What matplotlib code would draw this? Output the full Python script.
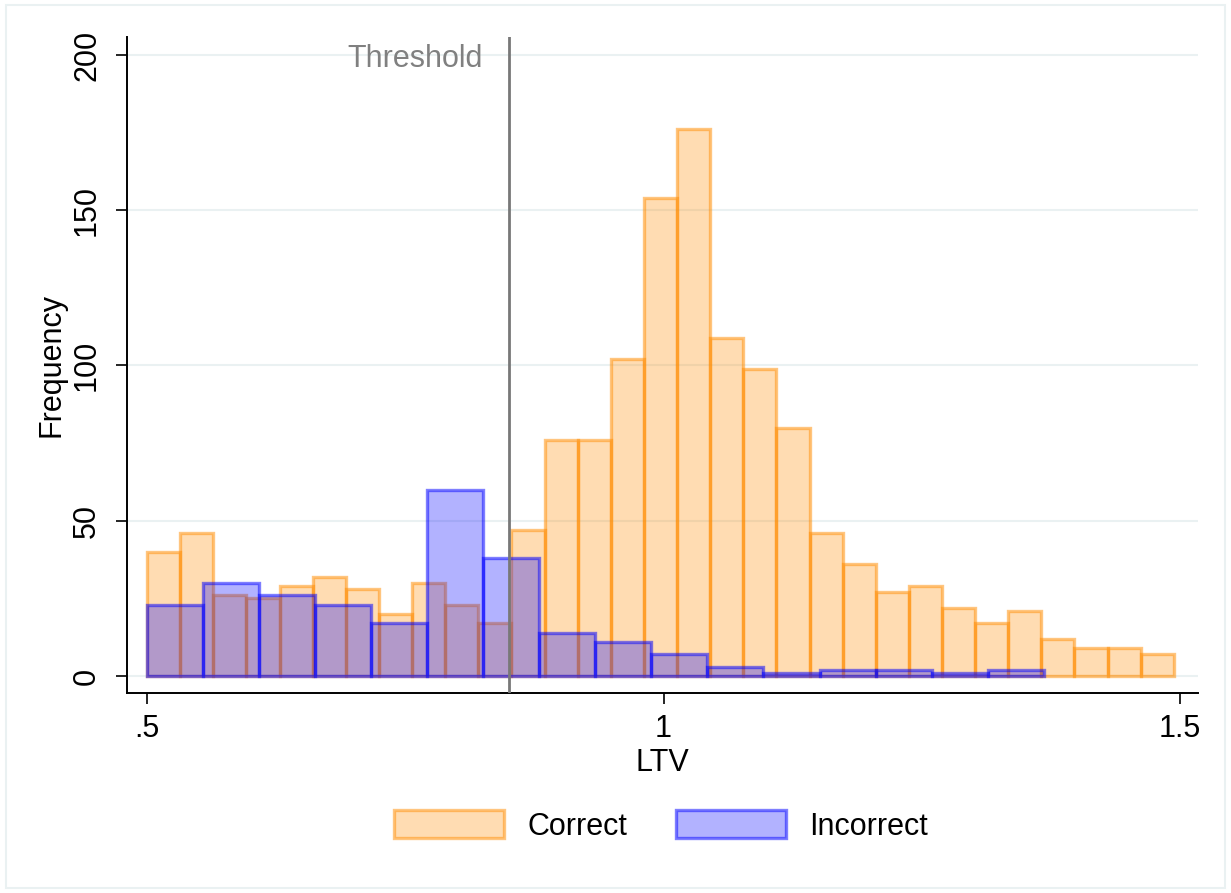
import matplotlib
matplotlib.use("Agg")
import matplotlib.pyplot as plt
from matplotlib.patches import Patch, Rectangle
import numpy as np

# ---- data ----
correct_counts = [40, 46, 26, 25, 29, 32, 28, 20, 30, 23, 17, 47, 76, 76, 102,
                  154, 176, 109, 99, 80, 46, 36, 27, 29, 22, 17, 21, 12, 9, 9, 7]
correct_range = (0.5, 1.494)
incorrect_counts = [23, 30, 26, 23, 17, 60, 38, 14, 11, 7, 3, 1, 2, 2, 1, 2]
incorrect_range = (0.5, 1.368)
threshold = 0.85
xticks = [0.5, 1.0, 1.5]
xticklabels = [".5", "1", "1.5"]
yticks = [0, 50, 100, 150, 200]
labels = ["Correct", "Incorrect"]

plt.rcParams['font.family'] = ['Liberation Sans', 'DejaVu Sans']
FS = 22

fig = plt.figure(figsize=(12.31, 8.93), dpi=100)
# faint outer frame
fig.patches.append(Rectangle((0.005, 0.006), 0.99, 0.988, transform=fig.transFigure,
                             fill=False, edgecolor=(0.918, 0.945, 0.95), lw=1.5))
ax = fig.add_axes([0.1032, 0.224, 0.870, 0.7346])

orange_face = (1.0, 0.55, 0.0, 0.30)
orange_edge = (1.0, 0.55, 0.0, 0.50)
blue_face = (0.0, 0.0, 1.0, 0.30)
blue_edge = (0.0, 0.0, 1.0, 0.50)

def draw_hist(counts, rng, face, edge):
    edges = np.linspace(rng[0], rng[1], len(counts) + 1)
    ax.bar(edges[:-1], counts, width=np.diff(edges), align='edge',
           facecolor=face, edgecolor=edge, linewidth=2.4, zorder=2)

draw_hist(correct_counts, correct_range, orange_face, orange_edge)
draw_hist(incorrect_counts, incorrect_range, blue_face, blue_edge)

ax.axvline(threshold, color=(0.47, 0.47, 0.47), lw=2.0, zorder=3)
ax.text(threshold - 0.025, 198.8, "Threshold", ha='right', va='center',
        fontsize=FS, color=(0.5, 0.5, 0.5), zorder=4)

ax.set_xlim(0.4806, 1.5174)
ax.set_ylim(-5.47, 205.8)
ax.set_xticks(xticks)
ax.set_xticklabels(xticklabels, fontsize=FS)
ax.set_yticks(yticks)
ax.set_yticklabels([str(v) for v in yticks], fontsize=FS, rotation=90, va='center')
ax.tick_params(axis='both', length=8, width=1.2, direction='out')
ax.tick_params(axis='y', pad=10)
ax.tick_params(axis='x', pad=7)
ax.grid(axis='y', color=(0.918, 0.945, 0.95), lw=1.5, zorder=0)
ax.set_axisbelow(True)
for s in ['top', 'right']:
    ax.spines[s].set_visible(False)
for s in ['left', 'bottom']:
    ax.spines[s].set_linewidth(1.4)
ax.set_xlabel("LTV", fontsize=FS, labelpad=3)
ax.set_ylabel("Frequency", fontsize=FS, labelpad=4)

handles = [Patch(facecolor=orange_face, edgecolor=orange_edge, lw=2.4),
           Patch(facecolor=blue_face, edgecolor=blue_edge, lw=2.4)]
fig.legend(handles, labels, loc='center', bbox_to_anchor=(0.537, 0.075),
           ncol=2, frameon=False, fontsize=FS, handlelength=3.6, handleheight=1.0,
           handletextpad=0.75, columnspacing=1.6)

fig.savefig("out.png", dpi=100)
